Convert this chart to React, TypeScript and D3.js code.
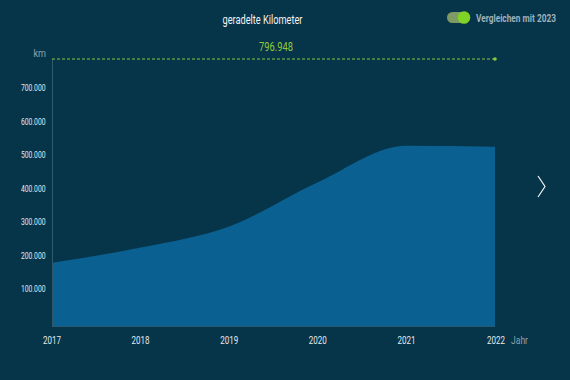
import React from "react";
import * as d3 from "d3";

const years = [2017, 2018, 2019, 2020, 2021, 2022];
const km = [189000, 234000, 297000, 429000, 538000, 535000];
const yTicks = [100000, 200000, 300000, 400000, 500000, 600000, 700000];
const compareValue = 796948;
const title = "geradelte Kilometer";
const toggleLabel = "Vergleichen mit 2023";

const W = 570, H = 380;
const FONT = "Roboto, sans-serif";

export default function App() {
  const x = d3.scaleLinear().domain([2017, 2022]).range([52, 495]);
  const y = d3.scaleLinear().domain([0, 100000]).range([326, 292.5]);
  const pts = years.map((yr, i) => [yr, km[i]] as [number, number]);
  const area = d3.area<[number, number]>()
    .x(d => x(d[0])).y0(y(0)).y1(d => y(d[1]))
    .curve(d3.curveMonotoneX)(pts) || "";
  const fmt = (v: number) => d3.format(",")(v).replace(/,/g, ".");
  const yc = y(compareValue);
  return (
    <svg width={W} height={H} style={{ position: "absolute", left: 0, top: 0, background: "#063448" }}>
      <rect x={0} y={0} width={W} height={H} fill="#063448" />
      <text x={262.5} y={24} textAnchor="middle" fill="#f2f5f7" fontSize={12.5} fontFamily={FONT} textLength={80} lengthAdjust="spacingAndGlyphs">{title}</text>
      {/* toggle */}
      <rect x={447} y={12} width={21} height={11} rx={5.5} fill="#7d9b63" />
      <circle cx={464} cy={17.5} r={6.3} fill="#7fd327" />
      <g transform="translate(476,21.5) scale(0.8,1)">
        <text x={0} y={0} fill="#9fb1ba" fontSize={10.5} fontWeight="bold" fontFamily={FONT} textLength={100} lengthAdjust="spacingAndGlyphs">{toggleLabel}</text>
      </g>
      {/* area */}
      <path d={area} fill="#0a6090" />
      {/* axes */}
      <line x1={52.5} x2={52.5} y1={yc} y2={326} stroke="#335a6c" strokeWidth={1} />
      <line x1={52} x2={495} y1={326.5} y2={326.5} stroke="#2a5a73" strokeWidth={1} />
      <text x={46} y={57} textAnchor="end" fill="#8ea3ad" fontSize={11} fontFamily={FONT} textLength={12.5} lengthAdjust="spacingAndGlyphs">km</text>
      {yTicks.map(t => (
        <text key={t} x={45.5} y={y(t) - 0.5} textAnchor="end" fill="#e4eaee" fontSize={9.5} fontFamily={FONT} textLength={24.6} lengthAdjust="spacingAndGlyphs">{fmt(t)}</text>
      ))}
      {years.map(yr => (
        <text key={yr} x={x(yr) + (yr === 2022 ? 1 : 0)} y={343.5} textAnchor="middle" fill="#e4eaee" fontSize={10.5} fontFamily={FONT} textLength={18} lengthAdjust="spacingAndGlyphs">{yr}</text>
      ))}
      <text x={511} y={344} fill="#8ea3ad" fontSize={10.5} fontFamily={FONT} textLength={17} lengthAdjust="spacingAndGlyphs">Jahr</text>
      {/* compare line */}
      <line x1={52} x2={495} y1={yc} y2={yc} stroke="#8cc63f" strokeWidth={1} strokeDasharray="3,2" />
      <circle cx={495} cy={yc} r={1.8} fill="#8cc63f" />
      <text x={276} y={51} textAnchor="middle" fill="#94c93a" fontSize={12} fontFamily={FONT} textLength={34} lengthAdjust="spacingAndGlyphs">{fmt(compareValue)}</text>
      {/* chevron */}
      <polyline points="538,176 545,186.5 538,197" fill="none" stroke="#f2f5f7" strokeWidth={1.2} />
    </svg>
  );
}
